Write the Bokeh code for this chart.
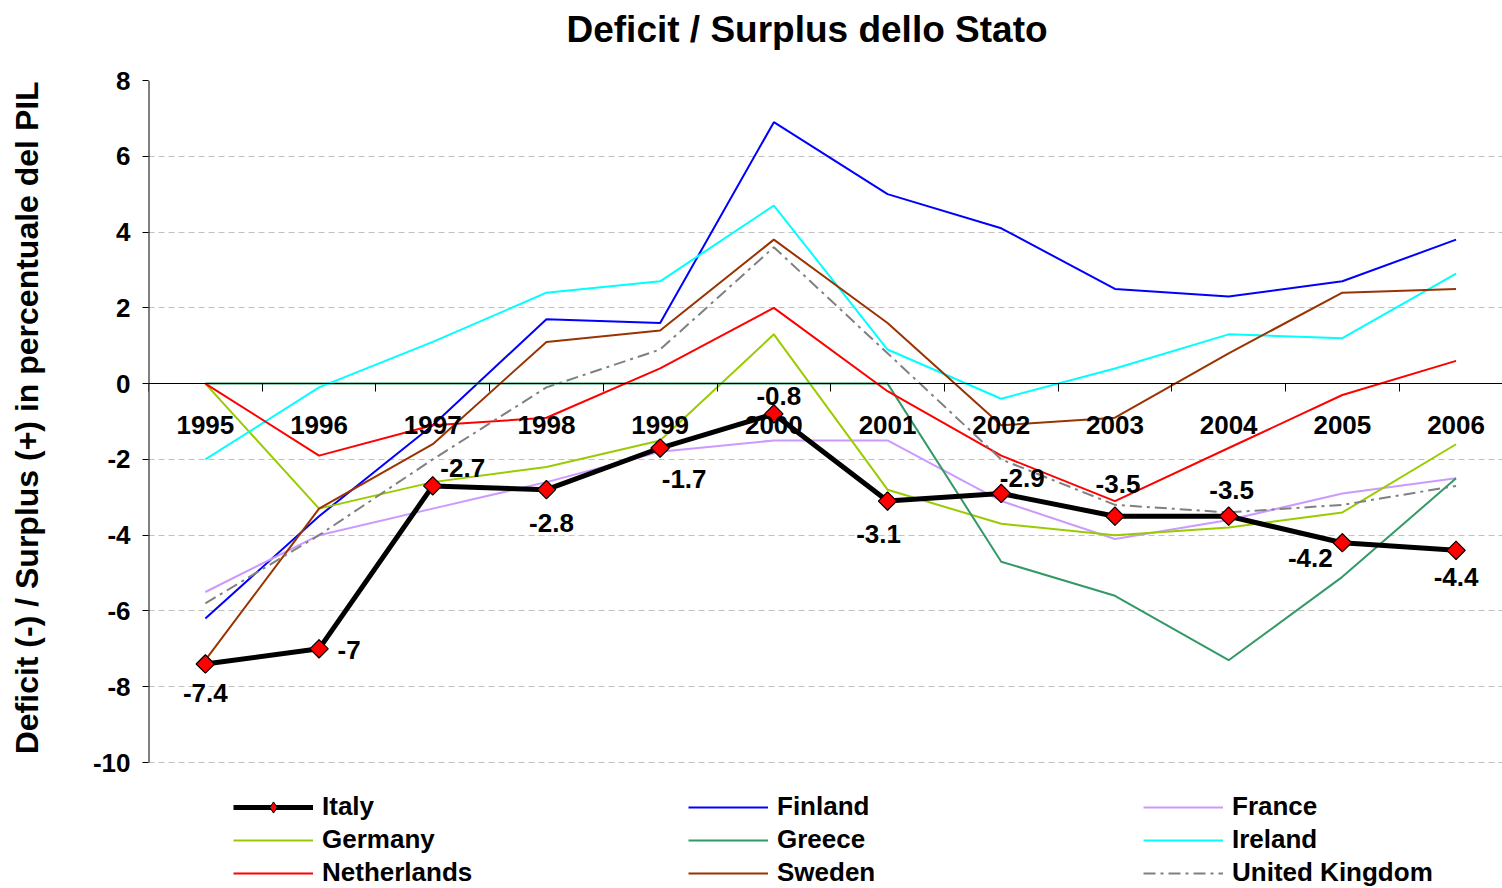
from bokeh.plotting import figure
from bokeh.models import ColumnDataSource, Legend, LegendItem, FixedTicker, Range1d, Title
from bokeh.embed import file_html
from bokeh.resources import INLINE
from bokeh.core.properties import value
import math

years = ["1995", "1996", "1997", "1998", "1999", "2000", "2001", "2002", "2003", "2004", "2005", "2006"]
italy = [-7.4, -7.0, -2.7, -2.8, -1.7, -0.8, -3.1, -2.9, -3.5, -3.5, -4.2, -4.4]
finland = [-6.2, -3.5, -1.1, 1.7, 1.6, 6.9, 5.0, 4.1, 2.5, 2.3, 2.7, 3.8]
france = [-5.5, -4.0, -3.3, -2.6, -1.8, -1.5, -1.5, -3.1, -4.1, -3.6, -2.9, -2.5]
germany = [0.0, -3.3, -2.6, -2.2, -1.5, 1.3, -2.8, -3.7, -4.0, -3.8, -3.4, -1.6]
greece = [0.0, 0.0, 0.0, 0.0, 0.0, 0.0, 0.0, -4.7, -5.6, -7.3, -5.1, -2.5]
ireland = [-2.0, -0.1, 1.1, 2.4, 2.7, 4.7, 0.9, -0.4, 0.4, 1.3, 1.2, 2.9]
netherlands = [0.0, -1.9, -1.1, -0.9, 0.4, 2.0, -0.2, -1.9, -3.1, -1.7, -0.3, 0.6]
sweden = [-7.3, -3.3, -1.6, 1.1, 1.4, 3.8, 1.6, -1.1, -0.9, 0.8, 2.4, 2.5]
uk = [-5.8, -4.0, -2.0, -0.1, 0.9, 3.6, 0.8, -2.0, -3.2, -3.4, -3.2, -2.7]
y_ticks = [-10, -8, -6, -4, -2, 0, 2, 4, 6, 8]

# label offsets for Italy data labels (screen px)
label_dx = [0, 30, 30, 5, 24, 5, -9, 21, 3, 3, -32, 0]
label_dy = [29, 1, -18, 33, 31, -18, 33, -15, -32, -26, 15, 27]

FONT = "Liberation Sans"
NBSP = "\u00a0"
idx = list(range(len(years)))

W, H = 1502, 888
LEFT, TOP, AXIS_BOTTOM = 148, 80, 762
y_lo, y_hi = min(y_ticks), max(y_ticks)
# frame runs to the canvas bottom so the legend (drawn inside the frame) is not clipped
y_start = y_lo - (H - AXIS_BOTTOM) * (y_hi - y_lo) / (AXIS_BOTTOM - TOP)
x_end = -0.5 + (W - LEFT) / 113.7

p = figure(width=W, height=H, output_backend="svg", toolbar_location=None, title=None,
           x_range=Range1d(-0.5, x_end), y_range=Range1d(y_start, y_hi),
           min_border_left=LEFT, min_border_right=0, min_border_top=TOP, min_border_bottom=0)
p.outline_line_color = None
p.background_fill_color = "white"

# white spacer next to the frame (added first = closest), then the real title above it
p.add_layout(Title(text=".", text_font_size="2px", text_color="white", standoff=24), "above")
p.add_layout(Title(text="Deficit / Surplus dello Stato", text_font=FONT, text_font_size="37px",
                   text_font_style="bold", text_color="black", align="left", offset=418,
                   standoff=8), "above")

# x axis crossing at zero
xa = p.xaxis[0]
xa.ticker = FixedTicker(ticks=idx, minor_ticks=[i - 0.5 for i in range(len(years) + 1)])
xa.fixed_location = 0
xa.major_label_overrides = {i: y for i, y in zip(idx, years)}
xa.major_tick_out = 0
xa.major_tick_in = 0
xa.minor_tick_out = 8
xa.minor_tick_in = 0
xa.minor_tick_line_color = "black"
xa.axis_line_color = "black"
xa.major_label_text_font = FONT
xa.major_label_text_font_size = "26px"
xa.major_label_text_font_style = "bold"
xa.major_label_text_color = "black"
xa.major_label_standoff = 24

ya = p.yaxis[0]
ya.ticker = FixedTicker(ticks=y_ticks, minor_ticks=[])
ya.major_label_overrides = {t: str(t) for t in y_ticks}
ya.major_tick_out = 6
ya.major_tick_in = 0
ya.minor_tick_line_color = None
ya.axis_line_color = None
ya.major_tick_line_color = "black"
ya.major_label_text_font = FONT
ya.major_label_text_font_size = "26px"
ya.major_label_text_font_style = "bold"
ya.major_label_text_color = "black"
ya.major_label_standoff = 12
# leading non-breaking spaces keep the title centred on the -10..8 span, not on the whole frame
ya.axis_label = NBSP * 15 + "Deficit (-) / Surplus (+) in percentuale del PIL"
ya.axis_label_text_font = FONT
ya.axis_label_text_font_size = "32px"
ya.axis_label_text_font_style = "bold"
ya.axis_label_text_color = "black"
ya.axis_label_standoff = 45

# visible part of the value axis line (from -10 to 8)
p.segment(x0=[-0.5], y0=[y_lo], x1=[-0.5], y1=[y_hi], line_color="black", line_width=2)

p.xgrid.visible = False
p.ygrid.ticker = FixedTicker(ticks=y_ticks, minor_ticks=[])
p.ygrid.grid_line_color = "#c0c0c0"
p.ygrid.grid_line_dash = "6 4"
p.ygrid.grid_line_width = 1

series = [
    ("Finland", finland, "#0000FF", "solid"),
    ("France", france, "#CC99FF", "solid"),
    ("Germany", germany, "#99CC00", "solid"),
    ("Greece", greece, "#339966", "solid"),
    ("Ireland", ireland, "#00FFFF", "solid"),
    ("Netherlands", netherlands, "#FF0000", "solid"),
    ("Sweden", sweden, "#993300", "solid"),
    ("United Kingdom", uk, "#808080", "12 5 3 5"),
]
rend = {}
for name, vals, col, dash in series:
    r = p.line(idx, vals, line_color=col, line_width=2, line_dash=dash)
    rend[name] = [r]

ri = p.line(idx, italy, line_color="black", line_width=5)
# diamond marker (used for the legend swatch) sits fully inside the rotated square marker
rd = p.scatter(idx, italy, marker="diamond", size=18,
               fill_color="#FF0000", line_color="black", line_width=1)
rs = p.scatter(idx, italy, marker="square", angle=math.pi / 4, size=13,
               fill_color="#FF0000", line_color="black", line_width=1.2)
rend["Italy"] = [ri, rd]

src = ColumnDataSource(dict(x=idx, y=italy, t=[f"{v:g}" for v in italy], dx=label_dx, dy=label_dy))
p.text(x="x", y="y", text="t", x_offset="dx", y_offset="dy", source=src,
       text_font=value(FONT), text_font_size="26px", text_font_style="bold",
       text_color="black", text_align="center", text_baseline="middle")

legend_rows = [
    ["Italy", "Finland", "France"],
    ["Germany", "Greece", "Ireland"],
    ["Netherlands", "Sweden", "United Kingdom"],
]
row_pitch = 33
for k, row in enumerate(legend_rows):
    lg = Legend(items=[LegendItem(label=n, renderers=rend[n]) for n in row],
                orientation="horizontal", location=(85, (len(legend_rows) - 1 - k) * row_pitch),
                glyph_width=80, glyph_height=28, label_standoff=9, label_width=160,
                label_height=30, spacing=206, padding=0, margin=0,
                label_text_font=FONT, label_text_font_size="26px", label_text_font_style="bold",
                label_text_color="black", border_line_color=None, background_fill_alpha=0)
    p.add_layout(lg, "center")

open("out.html", "w").write(file_html(p, INLINE))
